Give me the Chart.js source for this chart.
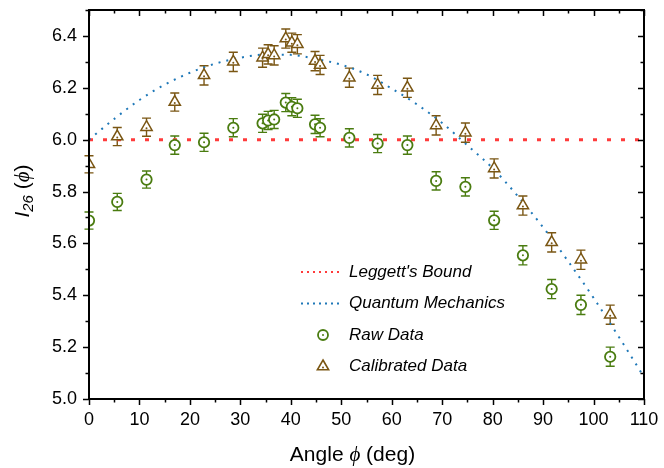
<!DOCTYPE html>
<html>
<head>
<meta charset="utf-8">
<script src="https://cdn.jsdelivr.net/npm/chart.js@4.4.0/dist/chart.umd.min.js"></script>
<style>
  html, body { margin: 0; padding: 0; background: #fff; }
  #wrap { width: 664px; height: 468px; }
</style>
</head>
<body>
<div id="wrap"><canvas id="chart" width="664" height="468"></canvas></div>
<script>
// measured angles (deg), same for raw and calibrated
const angles = [0, 5.6, 11.4, 17.0, 22.8, 28.6, 34.4, 35.5, 36.7, 39.0, 40.2, 41.3,
  44.8, 45.8, 51.6, 57.2, 63.1, 68.8, 74.6, 80.3, 86.0, 91.7, 97.5, 103.3];
const rawValues = [5.688, 5.760, 5.846, 5.979, 5.990, 6.046, 6.063, 6.074, 6.078, 6.143, 6.127, 6.121,
  6.059, 6.046, 6.007, 5.985, 5.979, 5.841, 5.818, 5.689, 5.554, 5.424, 5.363, 5.163];
const rawErrors = [0.033, 0.033, 0.033, 0.035, 0.035, 0.035, 0.035, 0.035, 0.035, 0.035, 0.035, 0.035,
  0.035, 0.035, 0.035, 0.035, 0.035, 0.035, 0.035, 0.035, 0.037, 0.037, 0.037, 0.037];
const calValues = [5.905, 6.012, 6.048, 6.145, 6.248, 6.300, 6.316, 6.329, 6.325, 6.390, 6.374, 6.368,
  6.303, 6.288, 6.239, 6.211, 6.200, 6.055, 6.027, 5.889, 5.746, 5.604, 5.537, 5.325];
const calErrors = [0.033, 0.035, 0.035, 0.035, 0.037, 0.037, 0.037, 0.037, 0.037, 0.037, 0.037, 0.037,
  0.037, 0.037, 0.037, 0.037, 0.037, 0.037, 0.037, 0.037, 0.037, 0.037, 0.037, 0.037];

// quantum mechanics prediction
const qmAngles = [0, 5, 10, 15, 20, 25, 30, 35, 40, 45, 50, 55, 60, 65, 70, 75, 80, 85, 90, 95, 100, 105, 110];
const qmValues = [6.000, 6.080, 6.153, 6.212, 6.258, 6.293, 6.316, 6.328, 6.327, 6.311, 6.289, 6.252,
  6.197, 6.136, 6.064, 5.978, 5.890, 5.782, 5.662, 5.530, 5.390, 5.240, 5.085];

// Leggett's bound
const boundAngles = [0, 110];
const boundValues = [6.0, 6.0];

const xTickValues = [0, 10, 20, 30, 40, 50, 60, 70, 80, 90, 100, 110];
const yTickValues = [5.0, 5.2, 5.4, 5.6, 5.8, 6.0, 6.2, 6.4];

const GREEN = '#4a7c10';
const BROWN = '#7a5613';
const RED = '#ff3b3b';
const BLUE = '#1f78b8';
const FONT = '"Liberation Sans", Arial, sans-serif';
const PHI_FONT = '"Liberation Serif", "DejaVu Serif", serif';

const pts = (xs, ys) => xs.map((x, i) => ({ x: x, y: ys[i] }));

// error bars, drawn under the markers
const errorBars = {
  id: 'errorBars',
  beforeDatasetsDraw(chart) {
    const ctx = chart.ctx;
    const xs = chart.scales.x, ys = chart.scales.y;
    chart.data.datasets.forEach(ds => {
      if (!ds.errors) return;
      ctx.save();
      ctx.strokeStyle = ds.borderColor;
      ctx.lineWidth = 1.4;
      ds.data.forEach((p, i) => {
        const px = xs.getPixelForValue(p.x);
        const y1 = ys.getPixelForValue(p.y - ds.errors[i]);
        const y2 = ys.getPixelForValue(p.y + ds.errors[i]);
        ctx.beginPath();
        ctx.moveTo(px, y1); ctx.lineTo(px, y2);
        ctx.moveTo(px - 4.5, y1); ctx.lineTo(px + 4.5, y1);
        ctx.moveTo(px - 4.5, y2); ctx.lineTo(px + 4.5, y2);
        ctx.stroke();
      });
      ctx.restore();
    });
  },
  afterDatasetsDraw(chart) {
    // small centre dot inside every marker
    const ctx = chart.ctx;
    chart.data.datasets.forEach((ds, di) => {
      if (!ds.errors) return;
      const meta = chart.getDatasetMeta(di);
      ctx.save();
      ctx.fillStyle = ds.borderColor;
      meta.data.forEach(el => {
        ctx.beginPath();
        ctx.arc(el.x, el.y + (ds.pointStyle === 'triangle' ? 1 : 0), 1, 0, Math.PI * 2);
        ctx.fill();
      });
      ctx.restore();
    });
  }
};

function drawPieces(ctx, pieces, x, y, align) {
  let w = 0;
  pieces.forEach(p => { ctx.font = p.f; w += ctx.measureText(p.t).width; });
  let cx = align === 'center' ? x - w / 2 : x;
  pieces.forEach(p => {
    ctx.font = p.f;
    ctx.fillText(p.t, cx, y + (p.dy || 0));
    cx += ctx.measureText(p.t).width;
  });
}

const frame = {
  id: 'frame',
  afterDraw(chart) {
    const ctx = chart.ctx;
    const a = chart.chartArea;
    const xs = chart.scales.x, ys = chart.scales.y;
    ctx.save();
    ctx.strokeStyle = '#000';
    ctx.lineWidth = 2;
    ctx.strokeRect(a.left, a.top, a.right - a.left, a.bottom - a.top);

    // major and minor ticks, outward on bottom/left, inward on top/right
    ctx.lineWidth = 1.5;
    ctx.beginPath();
    for (let v = 0; v <= 110; v += 5) {
      const px = Math.round(xs.getPixelForValue(v)) + 0.5;
      const len = v % 10 === 0 ? 6 : 3.5;
      ctx.moveTo(px, a.bottom); ctx.lineTo(px, a.bottom + len);
      ctx.moveTo(px, a.top); ctx.lineTo(px, a.top + len);
    }
    for (let k = 0; k <= 15; k++) {
      const v = 5.0 + k * 0.1;
      const py = Math.round(ys.getPixelForValue(v)) + 0.5;
      const len = k % 2 === 0 ? 6 : 3.5;
      ctx.moveTo(a.left, py); ctx.lineTo(a.left - len, py);
      ctx.moveTo(a.right, py); ctx.lineTo(a.right - len, py);
    }
    ctx.stroke();

    // axis titles
    ctx.fillStyle = '#000';
    ctx.textBaseline = 'alphabetic';
    drawPieces(ctx, [
      { t: 'Angle ', f: '21px ' + FONT },
      { t: 'ϕ', f: 'italic 21px ' + PHI_FONT },
      { t: ' (deg)', f: '21px ' + FONT }
    ], 352.5, 461, 'center');

    ctx.save();
    ctx.translate(29, 191);
    ctx.rotate(-Math.PI / 2);
    drawPieces(ctx, [
      { t: 'I', f: 'italic 21px ' + FONT },
      { t: '26', f: 'italic 15px ' + FONT, dy: 4 },
      { t: ' (', f: '21px ' + FONT },
      { t: 'ϕ', f: 'italic 21px ' + PHI_FONT },
      { t: ')', f: '21px ' + FONT }
    ], 0, 0, 'center');
    ctx.restore();

    // legend
    const rows = [
      { label: "Leggett's Bound", kind: 'line', color: RED },
      { label: 'Quantum Mechanics', kind: 'line', color: BLUE },
      { label: 'Raw Data', kind: 'circle', color: GREEN },
      { label: 'Calibrated Data', kind: 'triangle', color: BROWN }
    ];
    rows.forEach((r, i) => {
      const y = 272 + i * 31.5;
      ctx.strokeStyle = r.color;
      ctx.fillStyle = r.color;
      if (r.kind === 'line') {
        for (let x = 301; x <= 340; x += 6) ctx.fillRect(x, y - 1, 2, 2);
      } else if (r.kind === 'circle') {
        ctx.lineWidth = 1.8;
        ctx.beginPath(); ctx.arc(323, y, 5, 0, Math.PI * 2); ctx.stroke();
        ctx.beginPath(); ctx.arc(323, y, 1, 0, Math.PI * 2); ctx.fill();
      } else {
        ctx.lineWidth = 1.6;
        const r6 = 6.5;
        ctx.beginPath();
        ctx.moveTo(323, y - r6);
        ctx.lineTo(323 + r6 * Math.sin(2 * Math.PI / 3), y - r6 * Math.cos(2 * Math.PI / 3));
        ctx.lineTo(323 - r6 * Math.sin(2 * Math.PI / 3), y - r6 * Math.cos(2 * Math.PI / 3));
        ctx.closePath(); ctx.stroke();
        ctx.beginPath(); ctx.arc(323, y + 1, 1, 0, Math.PI * 2); ctx.fill();
      }
      ctx.fillStyle = '#000';
      ctx.font = 'italic 17px ' + FONT;
      ctx.textBaseline = 'middle';
      ctx.fillText(r.label, 349, y);
    });
    ctx.restore();
  }
};

new Chart(document.getElementById('chart'), {
  type: 'scatter',
  data: {
    datasets: [
      {
        label: 'Raw Data',
        data: pts(angles, rawValues),
        errors: rawErrors,
        pointStyle: 'circle',
        pointRadius: 5.2,
        pointBorderWidth: 1.8,
        borderColor: GREEN,
        backgroundColor: '#fff',
        order: 1
      },
      {
        label: 'Calibrated Data',
        data: pts(angles, calValues),
        errors: calErrors,
        pointStyle: 'triangle',
        pointRadius: 6.5,
        pointBorderWidth: 1.5,
        borderColor: BROWN,
        backgroundColor: '#fff',
        order: 1
      },
      {
        label: 'Quantum Mechanics',
        type: 'line',
        data: pts(qmAngles, qmValues),
        borderColor: BLUE,
        borderWidth: 2,
        borderDash: [2, 6],
        pointRadius: 0,
        tension: 0.4,
        cubicInterpolationMode: 'monotone',
        fill: false,
        order: 2
      },
      {
        label: "Leggett's Bound",
        type: 'line',
        data: pts(boundAngles, boundValues),
        borderColor: RED,
        borderWidth: 3,
        borderDash: [4, 10],
        pointRadius: 0,
        fill: false,
        order: 2
      }
    ]
  },
  options: {
    responsive: false,
    animation: false,
    devicePixelRatio: 1,
    layout: { padding: { top: 10, right: 20, left: 0, bottom: 0 } },
    plugins: { legend: { display: false }, tooltip: { enabled: false } },
    scales: {
      x: {
        type: 'linear',
        min: 0, max: 110,
        afterBuildTicks: s => { s.ticks = xTickValues.map(v => ({ value: v })); },
        afterFit: s => { s.height = 69; s.paddingLeft = 0; s.paddingRight = 0; },
        grid: { display: false, drawTicks: false },
        border: { display: false },
        ticks: { color: '#000', padding: 10, maxRotation: 0, font: { family: FONT, size: 18 } }
      },
      y: {
        type: 'linear',
        min: 5.0, max: 6.5,
        afterBuildTicks: s => { s.ticks = yTickValues.map(v => ({ value: v })); },
        afterFit: s => { s.width = 89; s.paddingTop = 0; s.paddingBottom = 0; },
        grid: { display: false, drawTicks: false },
        border: { display: false },
        ticks: { color: '#000', padding: 12, font: { family: FONT, size: 18 },
          callback: v => Number(v).toFixed(1) }
      }
    }
  },
  plugins: [errorBars, frame]
});
</script>
</body>
</html>
